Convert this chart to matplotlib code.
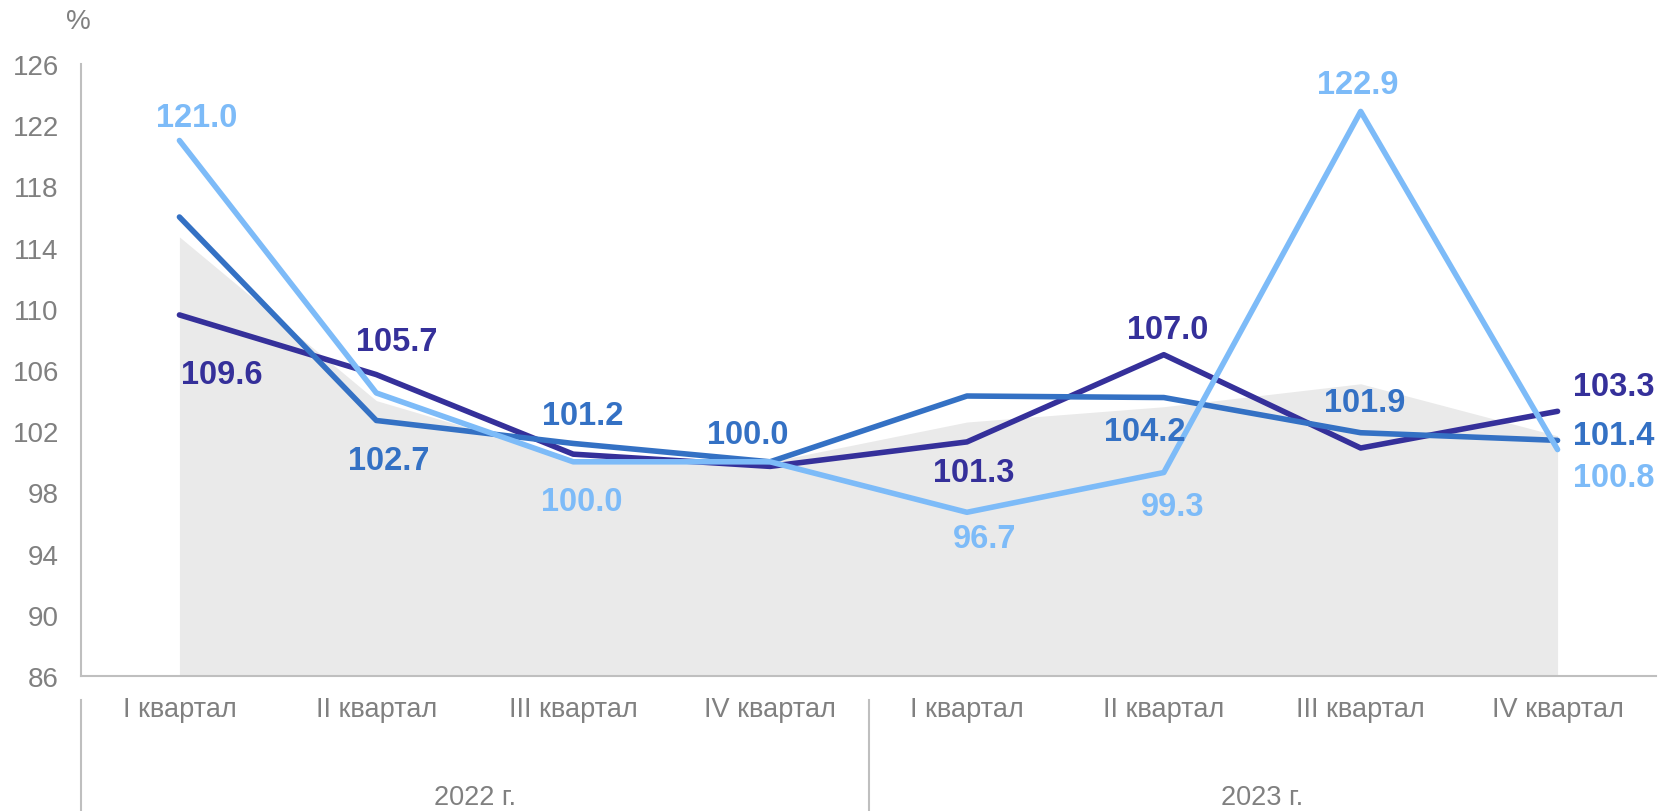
import matplotlib
matplotlib.use("Agg")
import matplotlib.pyplot as plt
import matplotlib.transforms as mtransforms

plt.rcParams['font.family'] = ['Liberation Sans', 'DejaVu Sans']

quarters = ["I квартал", "II квартал", "III квартал", "IV квартал",
            "I квартал", "II квартал", "III квартал", "IV квартал"]
years = ["2022 г.", "2023 г."]
yticks = [86, 90, 94, 98, 102, 106, 110, 114, 118, 122, 126]

area = [114.7, 104.0, 100.2, 100.0, 102.6, 103.6, 105.1, 101.7]
dark = [109.6, 105.7, 100.5, 99.7, 101.3, 107.0, 100.9, 103.3]
mid = [116.0, 102.7, 101.2, 100.0, 104.3, 104.2, 101.9, 101.4]
light = [121.0, 104.5, 100.0, 100.0, 96.7, 99.3, 122.9, 100.8]

# which points get a value label (index, text)
dark_labels = [(0, "109.6"), (1, "105.7"), (4, "101.3"), (5, "107.0"), (7, "103.3")]
mid_labels = [(1, "102.7"), (2, "101.2"), (3, "100.0"), (5, "104.2"), (6, "101.9"), (7, "101.4")]
light_labels = [(0, "121.0"), (2, "100.0"), (4, "96.7"), (5, "99.3"), (6, "122.9"), (7, "100.8")]

# label offsets in pixels (dx, -dy)
dark_off = [(42, -60), (20, 33), (7, -31), (4, 25), (56, 25)]
mid_off = [(12, -40), (9, 28), (-22, 27), (-19, -34), (4, 30), (56, 5)]
light_off = [(17, 23), (9, -40), (18, -26), (9, -34), (-3, 27), (56, -28)]

c_dark = "#35309a"
c_mid = "#3471c4"
c_light = "#7dbbf8"
c_area = "#eaeaea"
c_axis = "#bfbfbf"
c_text = "#808080"

fig = plt.figure(figsize=(16.6, 8.12), dpi=100)
ax = fig.add_axes([81/1660, 1-677/812, (1656-81)/1660, (677-65)/812])

x = [i + 0.5 for i in range(len(quarters))]
ax.fill_between(x, 86, area, color=c_area, lw=0, zorder=1)
ax.plot(x, dark, color=c_dark, lw=4, zorder=3, solid_capstyle='round')
ax.plot(x, mid, color=c_mid, lw=4, zorder=4, solid_capstyle='round')
ax.plot(x, light, color=c_light, lw=4, zorder=5, solid_capstyle='round')

for vals, labs, offs, col in [(dark, dark_labels, dark_off, c_dark),
                              (mid, mid_labels, mid_off, c_mid),
                              (light, light_labels, light_off, c_light)]:
    for (i, t), (dx, dy) in zip(labs, offs):
        ax.annotate(t, (x[i], vals[i]), xytext=(dx, dy), textcoords='offset pixels',
                    ha='center', va='center', fontsize=23.5, fontweight='bold',
                    color=col, zorder=6)

ax.set_xlim(0, 8)
ax.set_ylim(86, 126)
ax.set_yticks(yticks)
ax.set_xticks([])
ax.tick_params(axis='y', length=0, pad=16, labelsize=20, labelcolor=c_text)
for s in ['top', 'right']:
    ax.spines[s].set_visible(False)
for s in ['left', 'bottom']:
    ax.spines[s].set_color(c_axis)
    ax.spines[s].set_linewidth(1.5)

trans = mtransforms.blended_transform_factory(ax.transData, ax.transAxes)
for xi, q in zip(x, quarters):
    ax.text(xi, -0.054, q, transform=trans, ha='center', va='center',
            fontsize=19.5, color=c_text)
for k, yr in enumerate(years):
    ax.text(2 + 4*k, -0.198, yr, transform=trans, ha='center', va='center',
            fontsize=19.5, color=c_text)
for xs in [0, 4]:
    ax.plot([xs, xs], [-0.039, -0.25], transform=trans, color=c_axis,
            lw=1.5, clip_on=False)

fig.text(78/1660, 1-22/812, "%", ha='center', va='center', fontsize=20, color=c_text)

fig.savefig("out.png", dpi=100)
